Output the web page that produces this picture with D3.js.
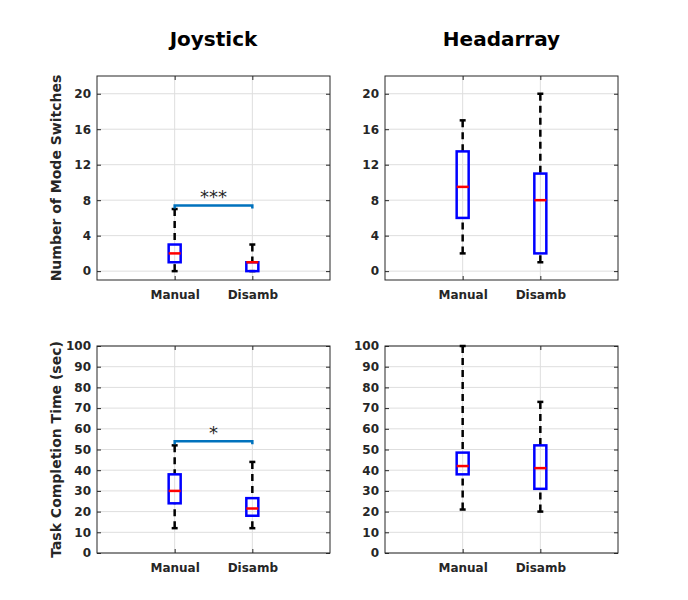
<!DOCTYPE html>
<html><head><meta charset="utf-8">
<script src="https://cdn.jsdelivr.net/npm/d3@7"></script>
<style>body{margin:0;background:#fff;font-family:"DejaVu Sans",sans-serif}</style>
</head><body><div id="chart"></div>
<script>
const categories = ['Manual', 'Disamb'];
const titles = ['Joystick', 'Headarray'];
// [low whisker, q1, median, q3, high whisker]
const switches_joy = [[0, 1, 2, 3, 7], [0, 0, 1, 1, 3]];
const switches_head = [[2, 6, 9.5, 13.5, 17], [1, 2, 8, 11, 20]];
const time_joy = [[12, 24, 30, 38, 52], [12, 18, 21.5, 26.5, 44]];
const time_head = [[21, 38, 42, 48.5, 100], [20, 31, 41, 52, 73]];
const switch_ticks = [0, 4, 8, 12, 16, 20];
const time_ticks = [0, 10, 20, 30, 40, 50, 60, 70, 80, 90, 100];
const sig_switches = {y: 7.4, label: '***'};
const sig_time = {y: 54, label: '*'};

const svg = d3.select('#chart').append('svg').attr('width', 688).attr('height', 600);

const panels = [
  {x0: 97, y0: 76, h: 204, domain: [-1, 22], ticks: switch_ticks, data: switches_joy, sig: sig_switches, ylabel: 'Number of Mode Switches', title: titles[0]},
  {x0: 385, y0: 76, h: 204, domain: [-1, 22], ticks: switch_ticks, data: switches_head, title: titles[1]},
  {x0: 97, y0: 346, h: 207, domain: [0, 100], ticks: time_ticks, data: time_joy, sig: sig_time, ylabel: 'Task Completion Time (sec)'},
  {x0: 385, y0: 346, h: 207, domain: [0, 100], ticks: time_ticks, data: time_head}
];
const w = 233;

panels.forEach(p => {
  const g = svg.append('g').attr('transform', `translate(${p.x0},${p.y0})`);
  const x = d3.scaleLinear().domain([0, 3]).range([0, w]);
  const y = d3.scaleLinear().domain(p.domain).range([p.h, 0]);

  // grid
  g.selectAll('.gy').data(p.ticks).join('line')
    .attr('x1', 0).attr('x2', w).attr('y1', d => y(d)).attr('y2', d => y(d))
    .attr('stroke', '#dedede');
  g.selectAll('.gx').data([1, 2]).join('line')
    .attr('y1', 0).attr('y2', p.h).attr('x1', d => x(d)).attr('x2', d => x(d))
    .attr('stroke', '#dedede');

  const ya = g.append('g').call(d3.axisLeft(y).tickValues(p.ticks).tickSize(-4).tickPadding(6));
  const yr = g.append('g').attr('transform', `translate(${w},0)`).call(d3.axisRight(y).tickValues(p.ticks).tickSize(-4).tickFormat(''));
  const xa = g.append('g').attr('transform', `translate(0,${p.h})`)
    .call(d3.axisBottom(x).tickValues([1, 2]).tickFormat((d, i) => categories[i]).tickSize(-4).tickPadding(10));
  const xt = g.append('g').call(d3.axisTop(x).tickValues([1, 2]).tickFormat('').tickSize(-4));
  [ya, yr, xa, xt].forEach(a => {
    a.selectAll('.domain').remove();
    a.selectAll('line').attr('stroke', '#262626');
    a.selectAll('text').attr('font-size', 12).attr('font-weight', 'bold').attr('fill', '#262626')
      .attr('font-family', '"DejaVu Sans",sans-serif');
  });
  g.append('rect').attr('width', w).attr('height', p.h).attr('fill', 'none').attr('stroke', '#262626');

  // boxes
  p.data.forEach((d, i) => {
    const cx = x(i + 1), bw = 12, cw = 6;
    g.append('line').attr('x1', cx).attr('x2', cx).attr('y1', y(d[0])).attr('y2', y(d[1]))
      .attr('stroke', '#000').attr('stroke-width', 2.5).attr('stroke-dasharray', '7,5');
    g.append('line').attr('x1', cx).attr('x2', cx).attr('y1', y(d[4])).attr('y2', y(d[3]))
      .attr('stroke', '#000').attr('stroke-width', 2.5).attr('stroke-dasharray', '7,5');
    [d[0], d[4]].forEach(v => g.append('line').attr('x1', cx - cw / 2).attr('x2', cx + cw / 2)
      .attr('y1', y(v)).attr('y2', y(v)).attr('stroke', '#000').attr('stroke-width', 2.5));
    g.append('rect').attr('x', cx - bw / 2).attr('width', bw).attr('y', y(d[3])).attr('height', y(d[1]) - y(d[3]))
      .attr('fill', 'none').attr('stroke', '#0000ff').attr('stroke-width', 2.5);
    g.append('line').attr('x1', cx - bw / 2).attr('x2', cx + bw / 2).attr('y1', y(d[2])).attr('y2', y(d[2]))
      .attr('stroke', '#ff0000').attr('stroke-width', 2.5);
  });

  if (p.sig) {
    const sy = y(p.sig.y);
    g.append('path').attr('d', `M${x(1)},${sy + 3}L${x(1)},${sy}L${x(2)},${sy}L${x(2)},${sy + 3}`)
      .attr('fill', 'none').attr('stroke', '#0072bd').attr('stroke-width', 2.5);
    g.append('text').attr('x', (x(1) + x(2)) / 2).attr('y', sy - 2).attr('text-anchor', 'middle')
      .attr('font-size', 18).attr('fill', '#262626').text(p.sig.label);
  }
  if (p.ylabel) {
    g.append('text').attr('transform', `translate(-36,${p.h / 2}) rotate(-90)`).attr('text-anchor', 'middle')
      .attr('font-size', 14).attr('font-weight', 'bold').attr('fill', '#262626').text(p.ylabel);
  }
  if (p.title) {
    g.append('text').attr('x', w / 2).attr('y', -30).attr('text-anchor', 'middle')
      .attr('font-size', 20).attr('font-weight', 'bold').attr('fill', '#000').text(p.title);
  }
});
</script></body></html>
